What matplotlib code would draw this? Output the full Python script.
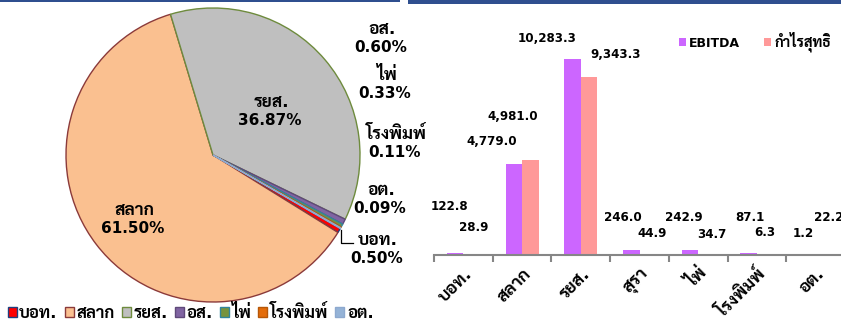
# สัดส่วนรายได้ (วงกลม) และ EBITDA / กำไรสุทธิ (แท่ง) แยกตามหน่วยงาน
import matplotlib
matplotlib.use("Agg")
import matplotlib.pyplot as plt
import numpy as np
from matplotlib.patches import Patch, Rectangle
from matplotlib.lines import Line2D

plt.rcParams['font.family'] = ['DejaVu Sans', 'Sarabun', 'IBM Plex Sans Thai Looped']
plt.rcParams['font.weight'] = 'bold'

# ข้อมูลแผนภูมิวงกลม (%)
pie_names = ['บอท.', 'สลาก', 'รยส.', 'อส.', 'ไพ่', 'โรงพิมพ์', 'อต.']
pie_shares = [0.50, 61.50, 36.87, 0.60, 0.33, 0.11, 0.09]

# ข้อมูลแผนภูมิแท่ง (ล้านบาท)
bar_names = ['บอท.', 'สลาก', 'รยส.', 'สุรา', 'ไพ่', 'โรงพิมพ์', 'อต.']
ebitda = [122.8, 4779.0, 10283.3, 246.0, 242.9, 87.1, 1.2]
net_profit = [28.9, 4981.0, 9343.3, 44.9, 34.7, 6.3, 22.2]

pie_fill = ['#FF0000', '#FAC090', '#BFBFBF', '#8064A2', '#77933C', '#E46C0A', '#95B3D7']
pie_edge = ['#1F3F7F', '#8B3A3A', '#6E8B3D', '#5F497A', '#31859C', '#B65708', '#8EA9CF']

# ตำแหน่งเส้นฐานของตัวเลข % (พิกัดแกนวงกลม) ชื่ออยู่เหนือขึ้นไป
label_pos = {
    'บอท.': (1.116, -0.735),
    'สลาก': (-0.544, -0.531),
    'รยส.': (0.388, 0.204),
    'อส.': (1.143, 0.701),
    'ไพ่': (1.170, 0.388),
    'โรงพิมพ์': (1.238, -0.014),
    'อต.': (1.136, -0.395),
}

# ระยะเลื่อนป้ายค่าของแท่ง (พิกเซล)
ebitda_off = [(-6, 46), (-22, 22), (-25, 20), (-8, 33), (-6, 33), (1, 36), (-4, 21)]
net_off = [(2, 27), (-18, 43), (27, 22), (4, 21), (5, 20), (0, 22), (5, 37)]

fig = plt.figure(figsize=(8.41, 3.23), dpi=100)

# แถบหัวสีน้ำเงิน
fig.add_artist(Rectangle((0, 1 - 2 / 323), 400 / 841, 2 / 323, transform=fig.transFigure,
                         color='#2F4F8F', lw=0))
fig.add_artist(Rectangle((408 / 841, 1 - 3.5 / 323), 433 / 841, 3.5 / 323, transform=fig.transFigure,
                         color='#2F4F8F', lw=0))

# ---- แผนภูมิวงกลม ----
ax1 = fig.add_axes([66 / 841, 21 / 323, 294 / 841, 294 / 323])
wedges, _ = ax1.pie(pie_shares, colors=pie_fill, startangle=-30, counterclock=False,
                    wedgeprops=dict(linewidth=1.0))
for w, ec in zip(wedges, pie_edge):
    w.set_edgecolor(ec)
ax1.set_aspect('equal')
ax1.set_xlim(-1, 1)
ax1.set_ylim(-1, 1)
ax1.axis('off')

for name, share in zip(pie_names, pie_shares):
    x, y = label_pos[name]
    ax1.text(x, y, f"{share:.2f}%", ha='center', va='baseline', fontsize=11, clip_on=False)
    ax1.annotate(name, (x, y), xytext=(1, 18), textcoords='offset pixels', ha='center',
                 va='baseline', fontsize=12.5, annotation_clip=False)

# เส้นชี้ป้าย บอท.
ax1.add_line(Line2D([0.868, 0.868, 0.95], [-0.51, -0.598, -0.598], color='black', lw=0.9,
                    clip_on=False))

handles = [Patch(facecolor=f, edgecolor=e, lw=1) for f, e in zip(pie_fill, pie_edge)]
fig.legend(handles, pie_names, loc='center left', bbox_to_anchor=(0.009, 0.03), ncol=7,
           frameon=False, fontsize=12, handlelength=0.55, handleheight=0.55,
           handletextpad=0.15, columnspacing=0.42, borderpad=0, borderaxespad=0)

# ---- แผนภูมิแท่ง ----
ax2 = fig.add_axes([434 / 841, 68 / 323, 411 / 841, 229 / 323])
x = np.arange(len(bar_names))
bw = 0.28
ax2.bar(x - bw / 2, ebitda, bw, color='#CC66FF', label='EBITDA')
ax2.bar(x + bw / 2, net_profit, bw, color='#FF9999', label='กำไรสุทธิ')

for i in range(len(bar_names)):
    ax2.annotate(f"{ebitda[i]:,.1f}", (x[i] - bw / 2, ebitda[i]), xytext=ebitda_off[i],
                 textcoords='offset pixels', ha='center', va='center', fontsize=8.6,
                 annotation_clip=False)
    ax2.annotate(f"{net_profit[i]:,.1f}", (x[i] + bw / 2, net_profit[i]), xytext=net_off[i],
                 textcoords='offset pixels', ha='center', va='center', fontsize=8.6,
                 annotation_clip=False)

ax2.set_xlim(-0.5, len(bar_names) - 0.5)
ax2.set_ylim(0, 12000)
for side in ['left', 'top', 'right']:
    ax2.spines[side].set_visible(False)
ax2.spines['bottom'].set_color('#868686')
ax2.spines['bottom'].set_linewidth(1.5)
ax2.set_yticks([])
ax2.set_xticks(x)
ax2.set_xticklabels(bar_names, rotation=45, ha='right', rotation_mode='anchor', fontsize=12.5)
ax2.tick_params(axis='x', which='major', length=0, pad=7)
ax2.set_xticks(np.arange(-0.5, len(bar_names)), minor=True)
ax2.tick_params(axis='x', which='minor', length=5, width=1.5, color='#868686', direction='out')

leg = ax2.legend(loc='center left', bbox_to_anchor=(0.595, 0.93), ncol=2, frameon=False,
                 fontsize=9, handlelength=0.6, handleheight=0.6, handletextpad=0.25,
                 columnspacing=1.9, borderpad=0, borderaxespad=0)
leg.get_texts()[1].set_fontsize(10.5)

fig.savefig("out.png", dpi=100)
